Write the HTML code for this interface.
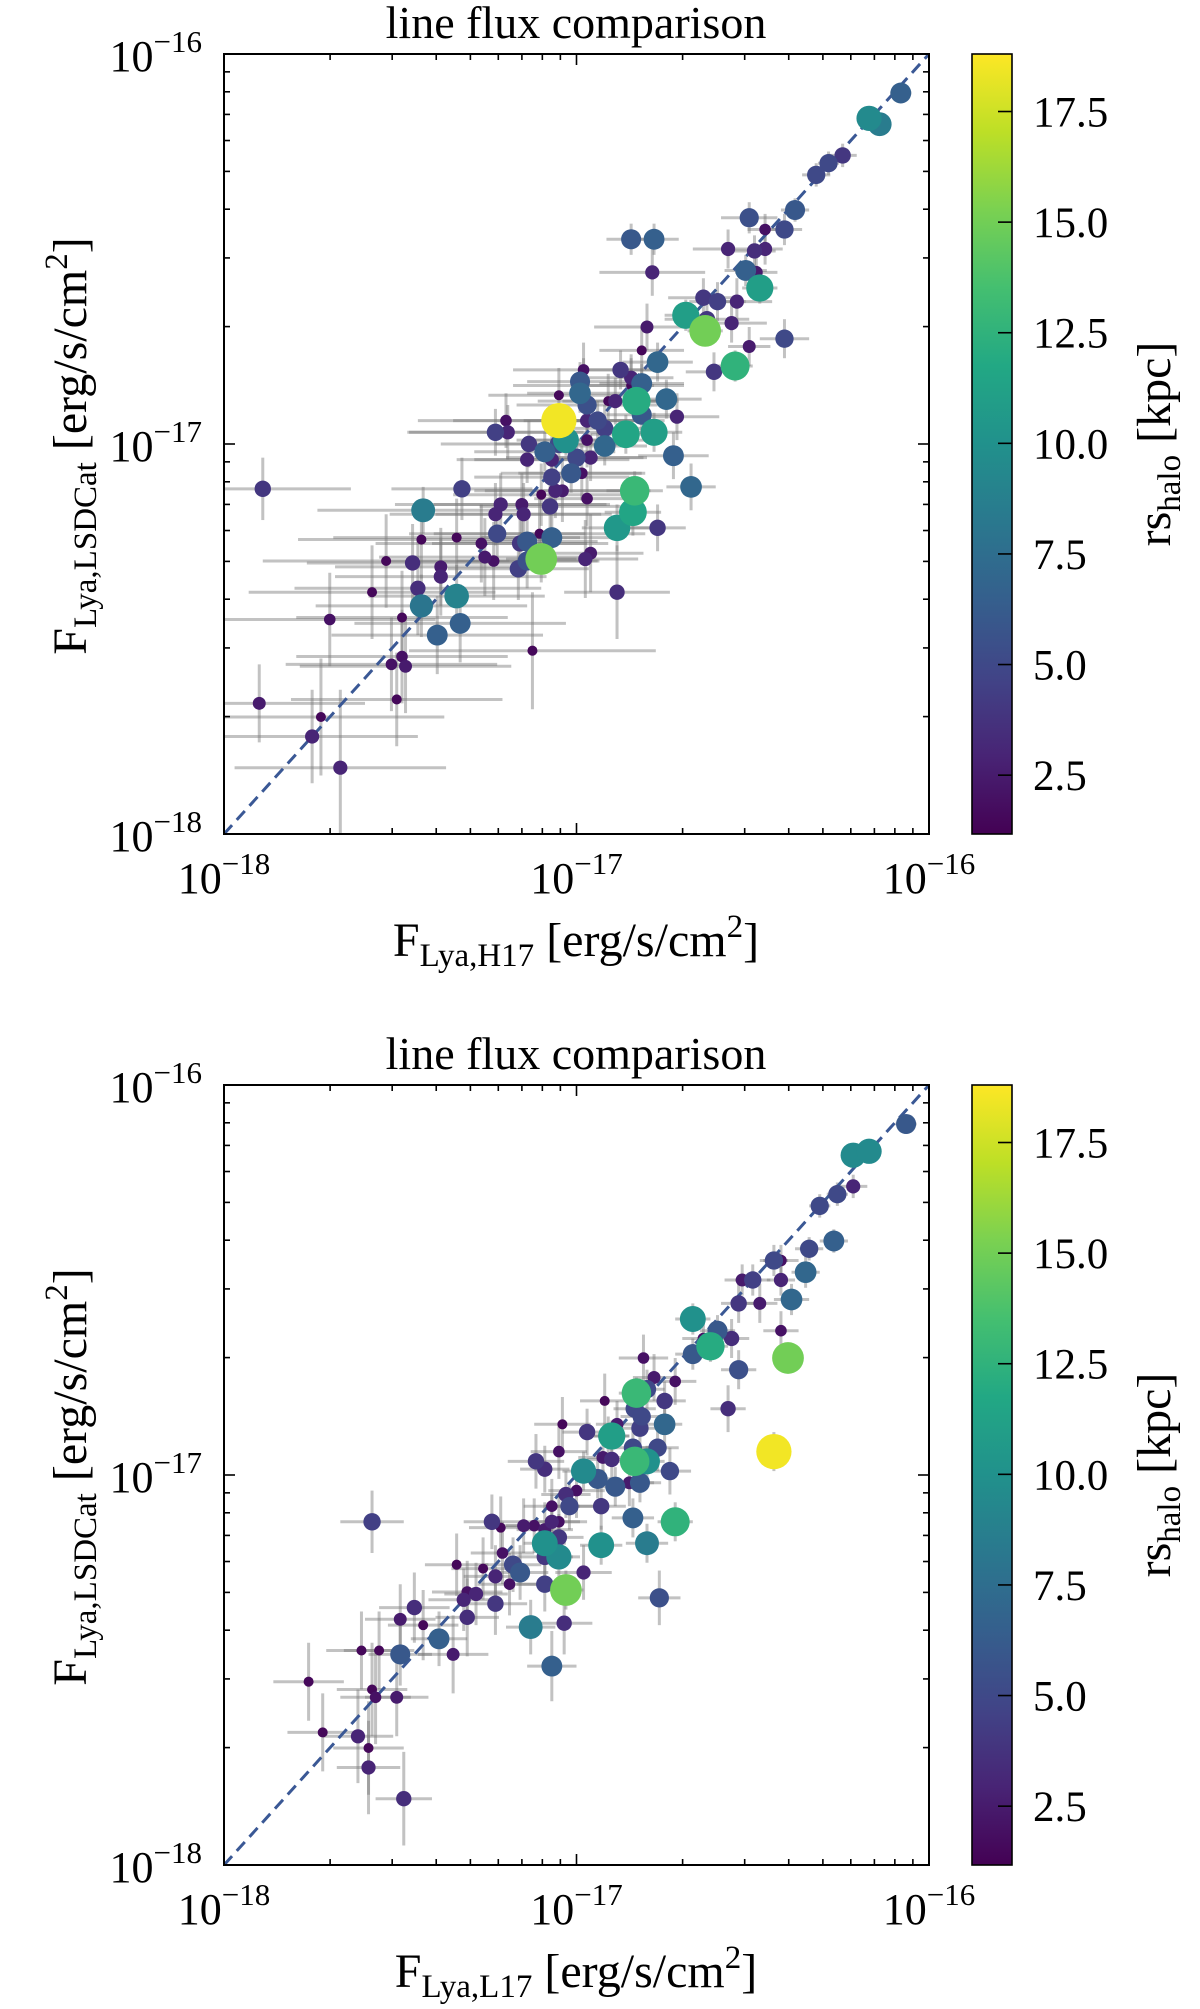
<!DOCTYPE html>
<html><head><meta charset="utf-8"><title>line flux comparison</title>
<style>
html,body{margin:0;padding:0;background:#fff;}
svg{display:block;font-family:"Liberation Serif","DejaVu Serif",serif;}
</style></head>
<body>
<svg id="fig" width="1200" height="2009" viewBox="0 0 1200 2009" xmlns="http://www.w3.org/2000/svg">
<defs>
<linearGradient id="viridis" x1="0" y1="1" x2="0" y2="0">
<stop offset="0" stop-color="#440154"/><stop offset="0.1" stop-color="#482475"/><stop offset="0.2" stop-color="#414487"/><stop offset="0.3" stop-color="#355f8d"/><stop offset="0.4" stop-color="#2a788e"/><stop offset="0.5" stop-color="#21918c"/><stop offset="0.6" stop-color="#22a884"/><stop offset="0.7" stop-color="#44bf70"/><stop offset="0.8" stop-color="#7ad151"/><stop offset="0.9" stop-color="#bddf26"/><stop offset="1" stop-color="#fde725"/>
</linearGradient>
</defs>
</svg>
<script>
// ---- Panel 1 data: log10 flux (erg/s/cm2), H17 vs LSDCat ----
const p1LogX=[-16.08,-16.17,-16.14,-16.245,-16.285,-16.32,-16.38,-16.41,-16.465,-16.51,
-16.57,-16.495,-16.465,-16.49,-16.52,-16.48,-16.845,-16.78,-16.785,-16.64,
-16.60,-16.545,-16.69,-16.635,-16.63,-16.56,-16.80,-16.51,-16.41,-16.55,
-16.77,-16.815,-16.875,-16.61,-16.98,-16.99,-16.99,-16.815,-16.845,-16.845,
-16.83,-16.815,-16.745,-16.715,-16.86,-16.78,-16.89,-16.91,-16.97,-16.97,
-16.94,-16.92,-16.92,-17.05,-16.98,-17.05,-17.03,-17.05,-17.00,-16.96,
-16.97,-17.09,-17.07,-17.135,-17.14,-17.23,-17.195,-17.20,-17.015,-17.07,
-16.985,-17.06,-17.04,-17.10,-16.97,-17.075,-16.725,-16.675,-16.835,-16.84,
-16.885,-16.77,-17.325,-17.435,-17.89,-17.155,-17.15,-17.215,-17.23,-17.105,
-17.225,-17.16,-17.07,-17.14,-17.10,-17.14,-17.165,-16.975,-16.96,-17.27,
-17.26,-17.235,-17.34,-17.44,-17.465,-17.385,-17.54,-17.385,-17.45,-17.44,
-17.34,-17.58,-17.70,-17.495,-17.395,-17.33,-16.885,-17.125,-17.495,-17.525,
-17.485,-17.51,-17.90,-17.725,-17.75,-17.67];
const p1LogY=[-16.10,-16.165,-16.18,-16.26,-16.28,-16.31,-16.40,-16.45,-16.45,-16.42,
-16.50,-16.505,-16.50,-16.56,-16.555,-16.60,-16.475,-16.475,-16.56,-16.625,
-16.635,-16.635,-16.67,-16.71,-16.68,-16.69,-16.70,-16.75,-16.73,-16.80,
-16.79,-16.76,-16.81,-16.815,-16.81,-16.84,-16.87,-16.845,-16.83,-16.85,
-16.89,-16.925,-16.885,-16.93,-16.975,-16.97,-16.89,-16.89,-16.90,-16.94,
-16.94,-16.96,-17.005,-16.94,-16.85,-16.875,-16.99,-17.00,-17.035,-17.035,
-16.99,-17.02,-17.04,-17.00,-17.04,-16.97,-16.97,-16.94,-17.075,-17.085,
-17.075,-17.12,-17.12,-17.13,-17.14,-17.16,-17.03,-17.11,-17.12,-17.175,
-17.215,-17.215,-17.115,-17.17,-17.115,-17.155,-17.18,-17.155,-17.18,-17.23,
-17.23,-17.255,-17.24,-17.25,-17.295,-17.30,-17.32,-17.295,-17.28,-17.255,
-17.29,-17.30,-17.24,-17.245,-17.305,-17.315,-17.30,-17.34,-17.37,-17.415,
-17.39,-17.38,-17.45,-17.445,-17.49,-17.46,-17.38,-17.53,-17.545,-17.565,
-17.57,-17.655,-17.665,-17.70,-17.75,-17.83];
const p1Rs=[6.5,9.5,8.5,4,5,5,6,5,2,5.5, 3,3.5,3,2.5,6.5,11,6,6.5,3,4,
4.5,3,11,15,4,3,2.5,2.5,5,12.5, 7,1.5,4,4,2,6,7,6.5,3,1.5,
12,6,7,3,11.5,11,3,1.5,5.5,3, 5,4.5,7,18.5,1.5,1.5,10,5,5,3,
2,6.5,3,4,3,4.5,3,2,6,4.5, 2,3,2.5,1.5,2,4,6.5,7,13,11.5,
10.5,4,4.5,8.5,4,2.5,3,3,3,1.5, 5,4,6.5,6,15,5.5,4.5,3,2.5,2,
2.5,2,1.5,1.5,3.5,2.5,1.5,3,3.5,8, 9,1.5,2,1.5,6.5,6.5,3.5,1.5,2,2,
2.5,1.5,2.5,1.5,3,3];
const p1XErr=[.03,.03,.03,.04,.03,.04,.04,.05,.05,.08, .1,.06,.05,.06,.06,.05,.07,.07,.15,.1,
.08,.1,.06,.05,.12,.1,.15,.06,.07,.05, .1,.12,.12,.08,.2,.15,.15,.12,.12,.15,
.08,.1,.1,.12,.1,.08,.15,.2,.2,.18, .15,.15,.12,.3,.2,.2,.1,.18,.2,.15,
.2,.2,.22,.25,.2,.25,.28,.25,.2,.22, .18,.2,.25,.25,.15,.2,.1,.07,.08,.08,
.1,.08,.2,.3,.25,.25,.25,.3,.3,.3, .25,.25,.2,.2,.1,.2,.2,.15,.15,.3,
.3,.3,.35,.35,.3,.3,.35,.3,.35,.3, .25,.35,.3,.3,.3,.3,.15,.35,.3,.3,
.3,.3,.3,.35,.3,.3];
const p1YErr=[.02,.02,.02,.03,.03,.03,.03,.04,.04,.04, .05,.04,.04,.05,.04,.04,.04,.04,.06,.05,
.05,.06,.04,.04,.05,.05,.06,.05,.05,.04, .05,.06,.05,.05,.07,.05,.05,.05,.06,.07,
.04,.05,.05,.06,.05,.05,.06,.07,.05,.06, .05,.06,.05,.04,.07,.07,.04,.05,.05,.06,
.07,.05,.06,.06,.06,.06,.07,.07,.05,.06, .07,.07,.08,.08,.07,.07,.06,.06,.05,.06,
.06,.06,.08,.06,.08,.08,.08,.08,.08,.1, .07,.08,.07,.07,.06,.07,.08,.1,.1,.1,
.1,.1,.1,.1,.1,.1,.12,.1,.12,.08, .08,.12,.12,.12,.1,.1,.12,.15,.12,.12,
.12,.12,.1,.15,.12,.2];

// ---- Panel 2 data: log10 flux, L17 vs LSDCat ----
const p2LogX=[-16.065,-16.215,-16.17,-16.215,-16.26,-16.31,-16.27,-16.34,-16.35,-16.44,
-16.42,-16.50,-16.53,-16.42,-16.39,-16.48,-16.54,-16.67,-16.60,-16.56,
-16.64,-16.62,-16.67,-16.42,-16.40,-16.54,-16.81,-16.78,-16.72,-16.83,
-16.80,-16.75,-16.92,-16.57,-16.835,-16.815,-16.75,-16.82,-16.885,-17.04,
-16.97,-16.90,-16.91,-16.84,-16.77,-16.80,-16.835,-17.115,-17.09,-17.05,
-16.98,-16.925,-16.90,-16.735,-16.94,-16.89,-16.85,-16.82,-17.03,-17.00,
-17.02,-16.93,-17.07,-17.24,-16.84,-16.72,-17.07,-17.05,-17.12,-17.09,
-17.05,-17.09,-16.93,-16.80,-17.15,-17.215,-17.21,-17.05,-17.09,-16.98,
-17.34,-17.265,-17.18,-17.16,-17.23,-17.19,-17.09,-17.03,-17.31,-17.32,
-17.285,-17.23,-16.765,-17.46,-17.50,-17.31,-17.435,-17.39,-17.13,-17.035,
-17.35,-17.50,-17.56,-17.61,-17.07,-17.76,-17.58,-17.51,-17.57,-17.72,
-17.62,-17.59,-17.59,-17.49,-17.58,-16.44];
const p2LogY=[-16.10,-16.18,-16.17,-16.26,-16.28,-16.31,-16.40,-16.42,-16.48,-16.45,
-16.45,-16.50,-16.50,-16.50,-16.55,-16.56,-16.56,-16.60,-16.63,-16.65,
-16.65,-16.67,-16.69,-16.63,-16.70,-16.73,-16.70,-16.75,-16.76,-16.79,
-16.78,-16.81,-16.81,-16.83,-16.83,-16.85,-16.87,-16.88,-16.87,-16.87,
-16.89,-16.90,-16.90,-16.93,-16.93,-16.965,-16.965,-16.965,-16.985,-16.94,
-16.99,-16.955,-16.96,-16.99,-17.01,-17.03,-17.02,-17.02,-17.05,-17.04,
-17.08,-17.08,-17.08,-17.12,-17.11,-17.12,-17.12,-17.12,-17.13,-17.14,
-17.16,-17.175,-17.18,-17.175,-17.13,-17.135,-17.20,-17.21,-17.21,-17.25,
-17.23,-17.24,-17.23,-17.25,-17.26,-17.28,-17.28,-17.295,-17.30,-17.32,
-17.305,-17.33,-17.315,-17.34,-17.37,-17.365,-17.385,-17.42,-17.39,-17.38,
-17.46,-17.46,-17.45,-17.45,-17.49,-17.53,-17.55,-17.57,-17.57,-17.66,
-17.67,-17.70,-17.75,-17.83,-17.12,-16.94];
const p2Rs=[6,9.5,9.5,3,5,5,6.5,5,7,5, 2,4.5,2.5,3,7,2.5,4,10,6,3.5,
2,12,6,2,15,5.5,2,2.5,2,13, 5,4,1.5,3.5,5,5,7,4.5,2.5,1.5,
4,11,6,5,5,10,13,4,3.5,2, 9.5,2.5,3.5,5,6,6,2.5,6,3.5,2,
5,4,2,4,6.5,12.5,3,2,2,2.5, 4,10,10,8.5,2.5,1.5,2,9.5,4,3,
1.5,1.5,5,6,3,2,4.5,15,2,3, 3,4,5.5,3.5,2.5,3.5,1.5,6.5,8.5,3.5,
2.5,6,1.5,1.5,6.5,1.5,1.5,2.5,2,1.5, 3,1.5,3,3.5,4.5,18.5];
const p2XErr=[.03,.03,.03,.04,.03,.03,.04,.04,.04,.04, .05,.05,.05,.04,.05,.05,.05,.05,.05,.05,
.06,.05,.05,.05,.04,.05,.07,.06,.06,.05, .05,.06,.07,.05,.06,.06,.05,.06,.06,.08,
.07,.05,.06,.06,.06,.05,.05,.08,.07,.08, .06,.07,.07,.06,.06,.06,.07,.06,.07,.08,
.07,.07,.08,.08,.06,.05,.08,.08,.08,.08, .07,.06,.06,.06,.08,.09,.09,.06,.08,.08,
.09,.09,.08,.08,.09,.09,.08,.05,.1,.1, .09,.09,.06,.1,.1,.09,.1,.08,.07,.08,
.1,.09,.1,.1,.07,.1,.1,.09,.1,.1, .1,.1,.09,.08,.09,.04];
const p2YErr=[.02,.02,.02,.03,.03,.03,.03,.03,.04,.04, .04,.04,.04,.04,.04,.05,.05,.04,.04,.05,
.05,.04,.04,.05,.04,.05,.06,.06,.06,.04, .05,.05,.07,.06,.05,.05,.05,.05,.06,.07,
.06,.04,.05,.05,.06,.04,.04,.07,.06,.07, .05,.06,.06,.06,.05,.05,.06,.05,.06,.07,
.06,.06,.07,.07,.05,.05,.07,.07,.07,.07, .06,.05,.05,.05,.07,.08,.08,.05,.07,.07,
.08,.08,.07,.07,.08,.08,.07,.05,.08,.08, .08,.08,.07,.09,.09,.1,.09,.07,.07,.08,
.1,.08,.1,.1,.09,.1,.12,.1,.12,.1, .12,.12,.12,.12,.08,.05];

// colour scale / axis range
const cbTicks=[2.5,5.0,7.5,10.0,12.5,15.0,17.5];
const cbMin=1.17, cbMax=18.8;
const decades=[-18,-17,-16];
const decadeLabels=["\u221218","\u221217","\u221216"];

const NS="http://www.w3.org/2000/svg";
const svg=document.getElementById('fig');
const AX={left:224,right:929,h:780,min:-18,max:-16};
const VIR=["#440154","#482475","#414487","#355f8d","#2a788e","#21918c","#22a884","#44bf70","#7ad151","#bddf26","#fde725"];
function hex(c){return [parseInt(c.substr(1,2),16),parseInt(c.substr(3,2),16),parseInt(c.substr(5,2),16)];}
function viridis(v){
  let t=(v-cbMin)/(cbMax-cbMin);t=Math.max(0,Math.min(1,t));
  const f=t*10,i=Math.min(9,Math.floor(f)),u=f-i;
  const a=hex(VIR[i]),b=hex(VIR[i+1]);
  return "rgb("+a.map((x,k)=>Math.round(x+(b[k]-x)*u)).join(",")+")";
}
function mk(tag,attrs,parent){const e=document.createElementNS(NS,tag);for(const k in attrs)e.setAttribute(k,attrs[k]);(parent||svg).appendChild(e);return e;}

function panel(top,lx,ly,rs,xe,ye,xsub,tag){
  const sx=v=>AX.left+(v-AX.min)/(AX.max-AX.min)*(AX.right-AX.left);
  const sy=v=>top+AX.h-(v-AX.min)/(AX.max-AX.min)*AX.h;
  const g=mk('g',{});
  
  
  const t=mk('text',{x:576,y:top-16,'text-anchor':'middle','font-size':46},g);
  t.textContent='line flux comparison';
  
  
  const cp=mk('clipPath',{id:'clip'+tag},g);
  mk('rect',{x:AX.left,y:top,width:AX.right-AX.left,height:AX.h},cp);
  const plot=mk('g',{'clip-path':'url(#clip'+tag+')'},g);
  
  
  const eg=mk('g',{stroke:'rgba(120,120,120,0.45)','stroke-width':3},plot);
  
  
  for(let i=0;i<lx.length;i++){
    const l1=mk('line',{x1:sx(lx[i]-xe[i]),x2:sx(lx[i]+xe[i]),y1:sy(ly[i]),y2:sy(ly[i])},eg);
    
    
    const l2=mk('line',{x1:sx(lx[i]),x2:sx(lx[i]),y1:sy(ly[i]-ye[i]),y2:sy(ly[i]+ye[i])},eg);
    
    
  }
  const d=mk('line',{x1:sx(-18),y1:sy(-18),x2:sx(-16),y2:sy(-16),stroke:'#3a5895','stroke-width':3,'stroke-dasharray':'12,7'},plot);
  
  
  const idx=lx.map((_,i)=>i).sort((a,b)=>rs[a]-rs[b]);
  for(const i of idx){
    const c=mk('circle',{cx:sx(lx[i]),cy:sy(ly[i]),r:4.1*Math.sqrt(rs[i]),fill:viridis(rs[i])},plot);
    
    
  }
  const fr=mk('rect',{x:AX.left,y:top,width:AX.right-AX.left,height:AX.h,fill:'none',stroke:'#000','stroke-width':2},g);
  
  
  const tg=mk('g',{stroke:'#000','stroke-width':1.6},g);
  
  
  for(let di=0;di<decades.length;di++){
    const dv=decades[di];
    const X=sx(dv),Y=sy(dv);
    mk('line',{x1:X,x2:X,y1:top+AX.h,y2:top+AX.h-11},tg);
    mk('line',{x1:X,x2:X,y1:top,y2:top+11},tg);
    mk('line',{x1:AX.left,x2:AX.left+11,y1:Y,y2:Y},tg);
    mk('line',{x1:AX.right,x2:AX.right-11,y1:Y,y2:Y},tg);
    if(dv<-16){for(let k=2;k<=9;k++){
      const v=dv+Math.log10(k),mx=sx(v),my=sy(v);
      mk('line',{x1:mx,x2:mx,y1:top+AX.h,y2:top+AX.h-6},tg);
      mk('line',{x1:mx,x2:mx,y1:top,y2:top+6},tg);
      mk('line',{x1:AX.left,x2:AX.left+6,y1:my,y2:my},tg);
      mk('line',{x1:AX.right,x2:AX.right-6,y1:my,y2:my},tg);
    }}
    const xl=mk('text',{x:X,y:top+AX.h+59,'text-anchor':'middle','font-size':44},g);
    xl.innerHTML='10<tspan dy="-19" font-size="31">'+decadeLabels[di]+'</tspan>';
    
    
    const yl=mk('text',{x:202,y:Y+17,'text-anchor':'end','font-size':44},g);
    yl.innerHTML='10<tspan dy="-19" font-size="31">'+decadeLabels[di]+'</tspan>';
    
    
  }
  const xlab=mk('text',{x:576,y:top+902,'text-anchor':'middle','font-size':48},g);
  xlab.innerHTML='F<tspan font-size="33" dy="10">Lya,'+xsub+'</tspan><tspan dy="-10"> [erg/s/cm</tspan><tspan font-size="33" dy="-19">2</tspan><tspan dy="19">]</tspan>';
  
  
  const ylab=mk('text',{x:0,y:0,'text-anchor':'middle','font-size':48,transform:'translate(86,'+(top+392)+') rotate(-90)'},g);
  ylab.innerHTML='F<tspan font-size="33" dy="10">Lya,LSDCat</tspan><tspan dy="-10"> [erg/s/cm</tspan><tspan font-size="33" dy="-19">2</tspan><tspan dy="19">]</tspan>';
  
  
  const cb=mk('g',{},g);
  
  
  const cbx=972,cbw=40;
  const cy=v=>top+AX.h-(v-cbMin)/(cbMax-cbMin)*AX.h;
  mk('rect',{x:cbx,y:top,width:cbw,height:AX.h,fill:'url(#viridis)',stroke:'#000','stroke-width':1.6},cb);
  for(const tv of cbTicks){
    const y=cy(tv);
    mk('line',{x1:cbx+cbw,x2:cbx+cbw-14,y1:y,y2:y,stroke:'#000','stroke-width':1.6},cb);
    const tl=mk('text',{x:1033,y:y+15,'font-size':43},cb);
    tl.textContent=tv.toFixed(1);
    
    
  }
  const cl=mk('text',{x:0,y:0,'text-anchor':'middle','font-size':48,transform:'translate(1170,'+(top+390)+') rotate(-90)'},cb);
  cl.innerHTML='rs<tspan font-size="33" dy="10">halo</tspan><tspan dy="-10"> [kpc]</tspan>';
  
  
}
panel(54,p1LogX,p1LogY,p1Rs,p1XErr,p1YErr,'H17','h17');
panel(1085,p2LogX,p2LogY,p2Rs,p2XErr,p2YErr,'L17','l17');
</script>
</body></html>
